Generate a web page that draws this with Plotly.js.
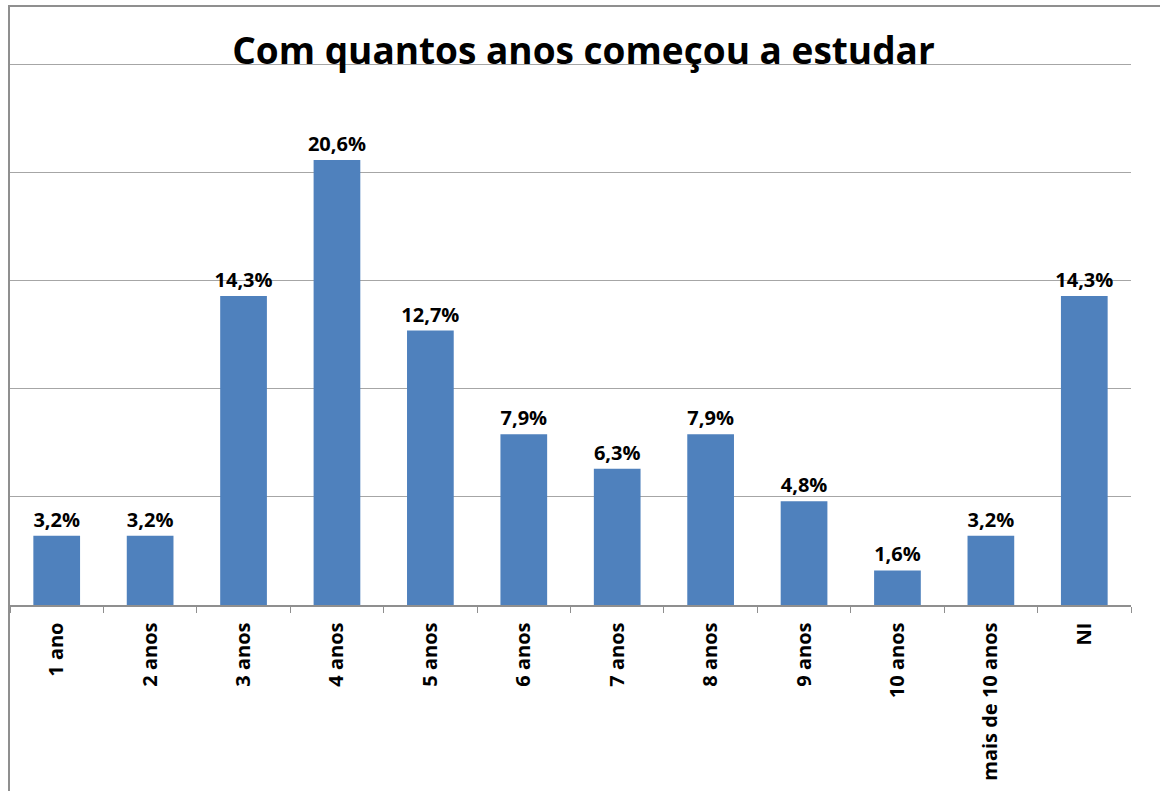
<!DOCTYPE html>
<html>
<head>
<meta charset="utf-8">
<script src="https://cdn.plot.ly/plotly-3.0.1.min.js"></script>
<style>
html, body { margin:0; padding:0; width:1160px; height:791px; overflow:hidden; background:#fff; }
#frame { position:absolute; left:8px; top:5px; width:1200px; height:900px; border-top:2px solid #8f8f8f; border-left:2px solid #8f8f8f; }
#chart { position:absolute; left:0; top:0; width:1160px; height:791px; }
</style>
</head>
<body>
<div id="frame"></div>
<div id="chart"></div>
<script>
const categories = ["1 ano","2 anos","3 anos","4 anos","5 anos","6 anos","7 anos","8 anos","9 anos","10 anos","mais de 10 anos","NI"];
const values = [3.2, 3.2, 14.3, 20.6, 12.7, 7.9, 6.3, 7.9, 4.8, 1.6, 3.2, 14.3];
const labels = values.map(v => v.toFixed(1).replace('.', ',') + '%');

const FONT = '"Open Sans", "DejaVu Sans", sans-serif';

const trace = {
  type: 'bar',
  x: categories,
  y: values,
  text: labels,
  textposition: 'outside',
  constraintext: 'none',
  cliponaxis: false,
  textfont: { family: FONT, size: 20, color: '#000', weight: 'bold' },
  marker: { color: '#4f81bd' },
  hoverinfo: 'skip'
};

const layout = {
  width: 1160,
  height: 791,
  margin: { l: 10, r: 29, t: 54, b: 186 },
  paper_bgcolor: 'rgba(0,0,0,0)',
  plot_bgcolor: 'rgba(0,0,0,0)',
  bargap: 0.5,
  showlegend: false,
  title: {
    text: 'Com quantos anos começou a estudar',
    font: { family: FONT, size: 37, color: '#000', weight: 'bold' },
    x: 0.503, xanchor: 'center',
    y: 0.935, yanchor: 'middle'
  },
  xaxis: {
    type: 'category',
    tickangle: -90,
    tickson: 'boundaries',
    ticks: 'outside',
    ticklen: 6,
    tickcolor: '#8f8f8f',
    tickwidth: 1,
    showline: true,
    linecolor: '#8f8f8f',
    linewidth: 1.5,
    showgrid: false,
    tickfont: { family: FONT, size: 20, color: '#000', weight: 'bold' },
    ticklabelstandoff: 8
  },
  yaxis: {
    range: [0, 25.5],
    tickvals: [5, 10, 15, 20, 25],
    showticklabels: false,
    ticks: '',
    showgrid: true,
    gridcolor: '#a6a6a6',
    gridwidth: 1,
    zeroline: false,
    showline: false
  }
};

Plotly.newPlot('chart', [trace], layout, { staticPlot: true, displayModeBar: false });
</script>
</body>
</html>
